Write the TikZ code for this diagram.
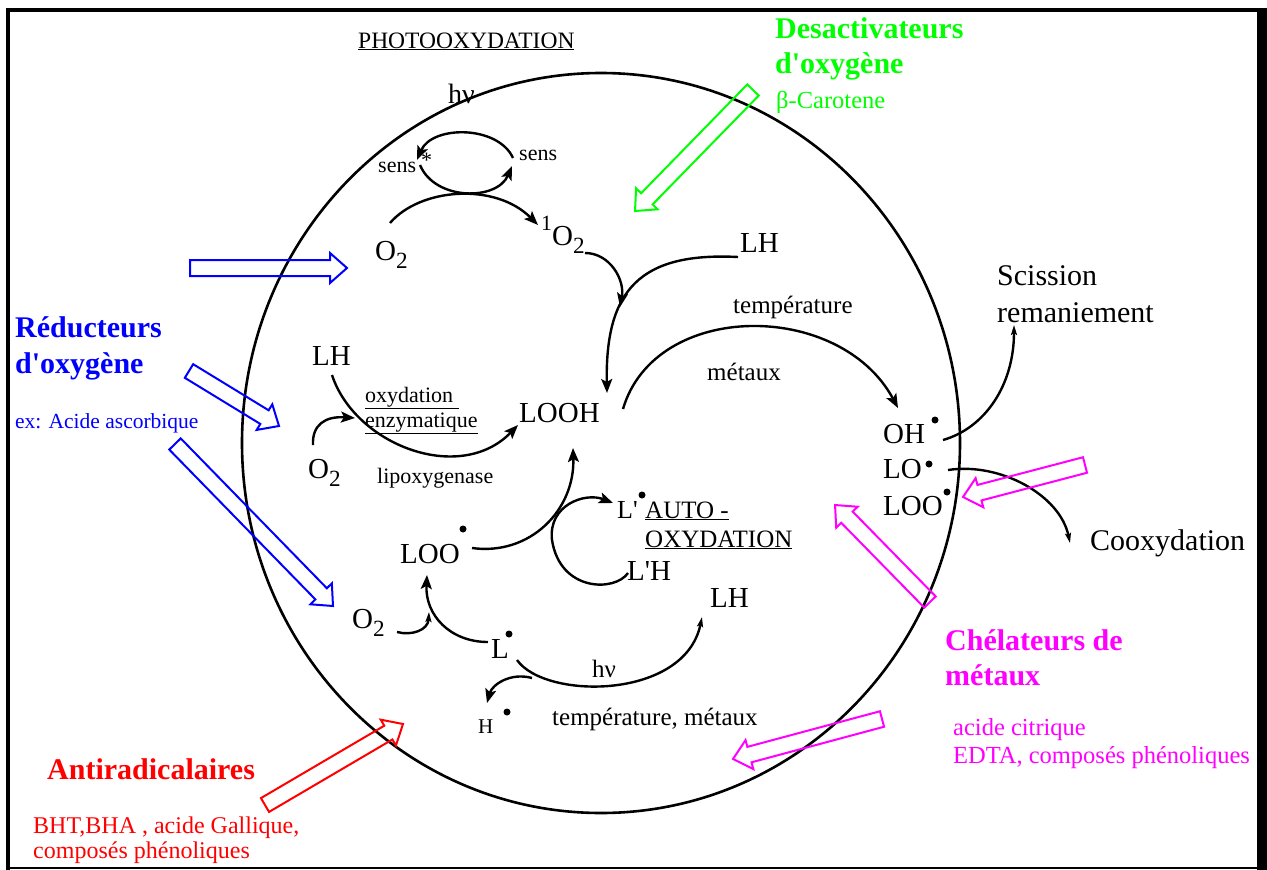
\documentclass[tikz,border=0pt]{standalone}
\usepackage{fontspec}
\setmainfont{Liberation Serif}
\usetikzlibrary{arrows.meta,calc}
\definecolor{cblue}{RGB}{0,0,255}
\definecolor{cgreen}{RGB}{0,255,0}
\definecolor{cred}{RGB}{255,0,0}
\definecolor{cmag}{RGB}{255,0,255}
\newcommand\fs[1]{\fontsize{#1}{#1}\selectfont}
\newcommand\lsub[1]{\raisebox{-0.28em}{\scalebox{0.8}{#1}}}
\newcommand\hsup[1]{\raisebox{0.5em}{\scalebox{0.75}{#1}}}
\newcommand\ap{\textquotesingle}
\newcommand\blockarrow[5]{%
 \pgfmathsetmacro\bdx{#4-#2}%
 \pgfmathsetmacro\bdy{#5-#3}%
 \pgfmathsetmacro\blen{veclen(\bdx,\bdy)}%
 \pgfmathsetmacro\bang{-atan2(\bdy,\bdx)}%
 \pgfmathsetmacro\bneck{\blen-17}%
 \begin{scope}[shift={(#2,#3)}, rotate=\bang]
 \draw[barrow,#1] (0,-8) -- (\bneck,-8) -- (\bneck,-15) -- (\blen,0) -- (\bneck,15) -- (\bneck,8) -- (0,8) -- cycle;
 \end{scope}}
\tikzset{
 txt/.style={inner sep=0pt, anchor=base west},
 big/.style={txt, font=\fs{29}},
 med/.style={txt, font=\fs{25}},
 sml/.style={txt, font=\fs{22}},
 hdr/.style={txt, font=\fs{30}\bfseries},
 rad/.style={circle, fill=black, inner sep=0pt, minimum size=7pt},
 conn/.style={line width=2.4pt, -{Stealth[length=14pt,width=11pt,inset=3pt]}},
 connthin/.style={line width=2.4pt, -{Stealth[length=10pt,width=6pt,inset=2pt]}},
 barrow/.style={line width=2pt, line join=miter}
}
\begin{document}
\begin{tikzpicture}[x=1pt,y=-1pt]
\useasboundingbox (0,0) rectangle (1267,870);
% frame
\draw[line width=4pt] (6,10) -- (1262,10);
\draw[line width=4pt] (8,8) -- (8,870);
\fill (1257,8) rectangle (1267,870);
\draw[line width=1.5pt] (6,868) -- (1258,868);
% big circle
\draw[line width=2.6pt] (601,443) ellipse [x radius=359, y radius=370];

% ---- black labels
\node[txt, font=\fs{23.5}] (title) at (358,48) {\underline{PHOTOOXYDATION}};
\node[txt, font=\fs{28}] (hv1) at (448,103) {hν};
\node[sml] (sensS) at (378,172) {sens\hspace{5pt}\raisebox{0.2em}{*}};
\node[sml] (sens) at (519,160) {sens};
\node[big] (o2a) at (375,260) {O\lsub{2}};
\node[big] (so2) at (541,245) {\hsup{1}O\lsub{2}};
\node[big] (lhA) at (740,252) {LH};
\node[med] (temp) at (733,313) {température};
\node[med] (met) at (707,380) {métaux};
\node[big] (looh) at (519,422) {LOOH};
\node[big] (lhB) at (312,365) {LH};
\node[sml] (oxy) at (365,402) {\underline{oxydation\ }};
\node[sml] (enz) at (365,427) {\underline{enzymatique}};
\node[big] (o2b) at (308,478) {O\lsub{2}};
\node[sml] (lipo) at (377,483) {lipoxygenase};
\node[big] (loo) at (400,563) {LOO};
\node[rad] (dloo) at (463,529) {};
\node[txt, font=\fs{26}] (lp) at (617,518) {L\ap};
\node[rad] (dlp) at (642,495) {};
\node[med] (auto) at (645,518) {\underline{AUTO -}};
\node[med] (oxyd) at (645,547) {\underline{OXYDATION}};
\node[big] (lph) at (627,580) {L\ap H};
\node[big] (lhC) at (710,607) {LH};
\node[big] (o2c) at (352,628) {O\lsub{2}};
\node[big] (l) at (491,658) {L};
\node[rad] (dl) at (509,634) {};
\node[med] (hv2) at (592,677) {hν};
\node[txt, font=\fs{21}] (h) at (478,733) {H};
\node[rad] (dh) at (507,712) {};
\node[med] (tm) at (552,725) {température, métaux};
\node[big] (oh) at (883,443) {OH};
\node[rad] (doh) at (935,420) {};
\node[big] (lo) at (883,478) {LO};
\node[rad] (dlo) at (929,464) {};
\node[big] (loo2) at (883,515) {LOO};
\node[rad] (dloo2) at (947,492) {};
\node[txt, font=\fs{30}] (sci) at (997,285) {Scission};
\node[txt, font=\fs{30}] (rem) at (997,322) {remaniement};
\node[txt, font=\fs{30}] (coox) at (1090,550) {Cooxydation};

% ---- coloured labels
\node[hdr, text=cgreen] (des1) at (775,38) {Desactivateurs};
\node[hdr, text=cgreen] (des2) at (775,73) {d\ap oxygène};
\node[txt, font=\fs{24.5}, text=cgreen] (beta) at (776,108) {β-Carotene};
\node[hdr, text=cblue] (red1) at (15,337) {Réducteurs};
\node[hdr, text=cblue] (red2) at (15,373) {d\ap oxygène};
\node[txt, font=\fs{21.5}, text=cblue] (exa) at (15,428) {ex: Acide ascorbique};
\node[txt, font=\fs{30}\bfseries, text=cred] (anti) at (47,779) {Antiradicalaires};
\node[txt, font=\fs{24}, text=cred] (bht) at (33,833) {BHT,BHA , acide Gallique,};
\node[txt, font=\fs{24}, text=cred] (comp) at (33,858) {composés phénoliques};
\node[hdr, text=cmag] (che1) at (945,650) {Chélateurs de};
\node[hdr, text=cmag] (che2) at (945,685) {métaux};
\node[txt, font=\fs{24.5}, text=cmag] (ac) at (953,735) {acide citrique};
\node[txt, font=\fs{24.5}, text=cmag] (edta) at (953,763) {EDTA, composés phénoliques};

% ---- connector end points
\coordinate (sens-w) at (513,158);
\coordinate (sensS-e) at (417,160);
\coordinate (sensS-b) at (420,165);
\coordinate (sens-b) at (512,166);
\coordinate (o2a-n) at (390,223);
\coordinate (so2-w) at (538,225);
\coordinate (so2-s) at (585,253);
\coordinate (j1) at (620,307);
\coordinate (lhA-w) at (738,257);
\coordinate (looh-n) at (607,393);
\coordinate (looh-e) at (623,409);
\coordinate (oh-n) at (898,408);
\coordinate (lhB-s) at (332,375);
\coordinate (looh-w) at (518,425);
\coordinate (o2b-n) at (313,445);
\coordinate (j2) at (355,418);
\coordinate (loo-e) at (472,548);
\coordinate (looh-s) at (573,448);
\coordinate (lph-w) at (628,573);
\coordinate (cyc) at (552,540);
\coordinate (lp-w) at (613,503);
\coordinate (o2c-e) at (397,632);
\coordinate (j3) at (429,612);
\coordinate (l-w) at (488,642);
\coordinate (loo-s) at (427,575);
\coordinate (l-e) at (517,660);
\coordinate (lhC-s) at (702,617);
\coordinate (l-se) at (532,678);
\coordinate (h-n) at (487,703);
\coordinate (oh-e) at (943,440);
\coordinate (sci-s) at (1014,325);
\coordinate (lo-e) at (948,470);
\coordinate (coox-w) at (1070,543);

% ---- connectors
\draw[conn] (sens-w) .. controls (498,125) and (432,125) .. (sensS-e);
\draw[conn] (sensS-b) .. controls (435,201) and (497,201) .. (sens-b);
\draw[conn] (o2a-n) .. controls (420,188) and (495,182) .. (so2-w);
\draw[conn] (so2-s) .. controls (610,253) and (625,280) .. (j1);
\draw[conn] (lhA-w) .. controls (640,252) and (605,290) .. (looh-n);
\draw[conn] (looh-e) .. controls (655,300) and (840,300) .. (oh-n);
\draw[conn] (lhB-s) .. controls (355,445) and (460,485) .. (looh-w);
\draw[conn] (o2b-n) .. controls (312,425) and (325,416) .. (j2);
\draw[conn] (loo-e) .. controls (530,556) and (575,510) .. (looh-s);
\draw[conn] (lph-w) .. controls (615,592) and (560,592) .. (cyc) .. controls (548,505) and (585,492) .. (lp-w);
\draw[connthin] (o2c-e) .. controls (412,636) and (428,630) .. (j3);
\draw[conn] (l-w) .. controls (450,642) and (425,615) .. (loo-s);
\draw[connthin] (l-e) .. controls (545,700) and (685,700) .. (lhC-s);
\draw[conn] (l-se) .. controls (510,672) and (492,685) .. (h-n);
\draw[connthin] (oh-e) .. controls (985,428) and (1014,385) .. (sci-s);
\draw[connthin] (lo-e) .. controls (1000,462) and (1060,495) .. (coox-w);

% ---- block arrows
\blockarrow{cblue}{190}{268}{347}{268}
\blockarrow{cblue}{189}{371}{279}{426}
\blockarrow{cblue}{175}{444}{333}{606}
\blockarrow{cgreen}{753}{90}{635}{211}
\blockarrow{cred}{265}{805}{403}{724}
\blockarrow{cmag}{1085}{465}{963}{497}
\blockarrow{cmag}{930}{602}{835}{505}
\blockarrow{cmag}{882}{719}{733}{759}
\end{tikzpicture}
\end{document}
